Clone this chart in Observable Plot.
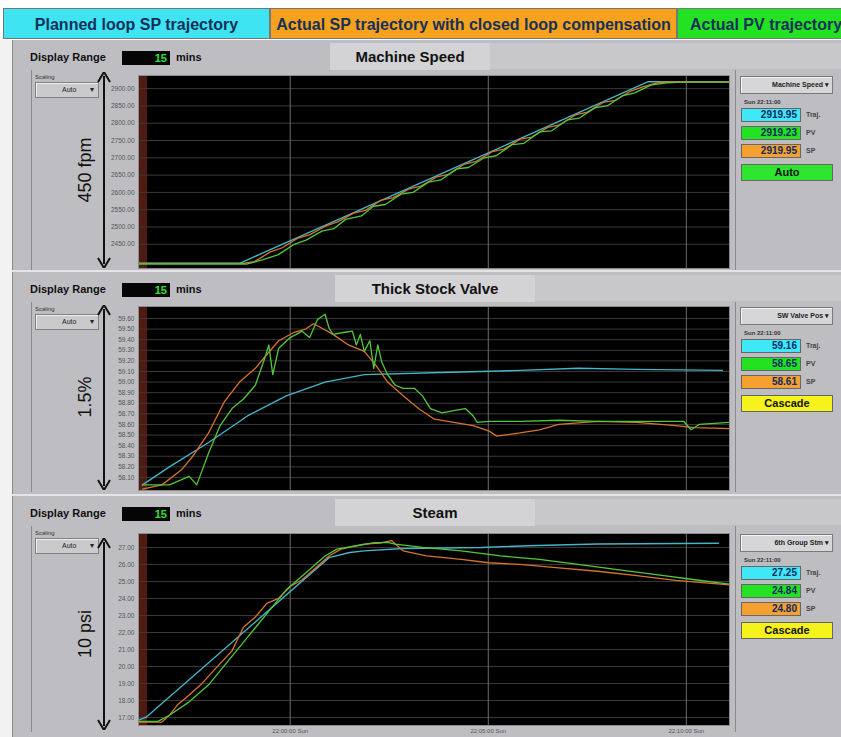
<!DOCTYPE html>
<html><head><meta charset="utf-8">
<script src="https://cdn.jsdelivr.net/npm/d3@7"></script>
<script src="https://cdn.jsdelivr.net/npm/@observablehq/plot@0.6"></script>
<style>
body{margin:0;background:#fff;font-family:"Liberation Sans",Arial,sans-serif;}
#root{position:relative;width:841px;height:737px;overflow:hidden;background:#fff;}
.a{position:absolute;box-sizing:border-box;}
.hdr{top:8px;height:31px;line-height:31px;font-family:"Liberation Sans Narrow","Liberation Sans",sans-serif;font-weight:bold;font-size:16px;color:#15305a;text-align:center;white-space:nowrap;overflow:hidden;border:1px solid #777;}
.dr{font-weight:bold;font-size:11px;color:#111;white-space:nowrap;}
.drbox{background:#050505;color:#2ee02e;font-weight:bold;font-size:11px;text-align:right;padding-right:3px;line-height:14px;}
.tab{background:#d3d3d5;font-weight:bold;font-size:15px;color:#111;text-align:center;white-space:nowrap;}
.tiny{font-size:6px;color:#333;white-space:nowrap;}
.scbox{border:1px solid #808080;background:#cacacd;font-size:7px;color:#222;line-height:14px;white-space:nowrap;box-shadow:inset 1px 1px 0 #eee;}
.rot{font-size:18px;color:#111;white-space:nowrap;transform:rotate(-90deg);transform-origin:center center;text-align:center;width:120px;height:20px;line-height:20px;}
.dd{border:1px solid #7a7a7a;background:#d6d6d8;font-size:7px;font-weight:bold;color:#222;line-height:15px;text-align:right;padding-right:3px;white-space:nowrap;box-shadow:inset 1px 1px 0 #f2f2f2;}
.val{font-weight:bold;font-size:10px;color:#0b2a66;text-align:right;padding-right:3px;border:1px solid #666;line-height:12px;}
.vlab{font-size:7px;font-weight:bold;color:#444;white-space:nowrap;}
.mode{font-weight:bold;font-size:11px;color:#111;text-align:center;border:1px solid #666;}
</style></head>
<body><div id="root"></div>
<script>
// ---------- data ----------
const headerLabels = ["Planned loop SP trajectory", "Actual SP trajectory with closed loop compensation", "Actual PV trajectory"];
const panelTitles = ["Machine Speed", "Thick Stock Valve", "Steam"];
const rangeLabels = ["450 fpm", "1.5%", "10 psi"];
const tagNames = ["Machine Speed", "SW Valve Pos", "6th Group Stm"];
const modeLabels = ["Auto", "Cascade", "Cascade"];
const trajValues = ["2919.95", "59.16", "27.25"];
const pvValues = ["2919.23", "58.65", "24.84"];
const spValues = ["2919.95", "58.61", "24.80"];
const displayRange = "15";
const stampLabel = "Sun 22:11:00";

// time in minutes relative to 22:00:00
const timeDomain = [-3.83, 11.09];
const timeTicks = [0, 5, 10];
const timeLabels = ["22:00:00 Sun", "22:05:00 Sun", "22:10:00 Sun"];
const redBand = [{x1: -3.83, x2: -3.6}];

const speedTicks = [2900, 2850, 2800, 2750, 2700, 2650, 2600, 2550, 2500, 2450];
const speedDomain = [2380, 2938];
const speedTraj = [[-3.83,2395],[-1.28,2395],[9.04,2920],[11.09,2920]];
const speedSP = [[-3.83,2395],[-1.2,2395],[-0.9,2400],[-0.5,2428],[-0.2,2440],[0.2,2468],[0.5,2478],[0.9,2503],[1.2,2515],[1.6,2540],[1.9,2548],[2.3,2578],[2.6,2585],[3.0,2610],[3.3,2618],[3.7,2645],[4.0,2652],[4.4,2682],[4.7,2690],[5.1,2718],[5.4,2725],[5.8,2754],[6.1,2760],[6.5,2788],[6.8,2795],[7.2,2824],[7.5,2832],[7.9,2860],[8.2,2866],[8.6,2893],[8.9,2905],[9.3,2918],[9.6,2920],[11.09,2920]];
const speedPV = [[-3.83,2393],[-1.1,2393],[-0.7,2405],[-0.3,2420],[0.1,2450],[0.4,2462],[0.8,2488],[1.1,2495],[1.4,2522],[1.8,2532],[2.1,2560],[2.4,2565],[2.8,2595],[3.1,2600],[3.5,2630],[3.8,2636],[4.2,2668],[4.5,2672],[4.9,2700],[5.2,2706],[5.6,2738],[5.9,2742],[6.3,2775],[6.6,2778],[7.0,2810],[7.3,2815],[7.7,2845],[8.0,2850],[8.4,2880],[8.7,2888],[9.1,2910],[9.5,2917],[9.9,2919],[11.09,2919]];

const valveTicks = [59.6, 59.5, 59.4, 59.3, 59.2, 59.1, 59.0, 58.9, 58.8, 58.7, 58.6, 58.5, 58.4, 58.3, 58.2, 58.1];
const valveDomain = [57.977, 59.713];
const valveTraj = [[-3.73,58.03],[-3.05,58.20],[-2.06,58.43],[-1.08,58.68],[-0.10,58.87],[0.88,59.00],[1.87,59.07],[3.83,59.09],[5.80,59.11],[7.27,59.13],[8.75,59.12],[10.91,59.11]];
const valveSP = [[-3.73,57.99],[-3.24,58.03],[-2.75,58.17],[-2.46,58.30],[-2.06,58.52],[-1.67,58.81],[-1.28,59.00],[-0.88,59.13],[-0.59,59.26],[-0.29,59.39],[0.10,59.47],[0.39,59.50],[0.59,59.55],[0.79,59.51],[1.08,59.45],[1.47,59.35],[1.87,59.29],[2.16,59.16],[2.46,59.00],[2.85,58.87],[3.24,58.75],[3.64,58.65],[4.13,58.62],[4.62,58.59],[5.01,58.54],[5.21,58.49],[5.80,58.52],[6.29,58.55],[6.78,58.60],[7.76,58.63],[8.75,58.62],[9.73,58.59],[10.22,58.57],[11.09,58.56]];
const valvePV = [[-3.73,58.03],[-3.05,58.03],[-2.55,58.11],[-2.36,58.03],[-2.06,58.33],[-1.77,58.59],[-1.47,58.75],[-1.18,58.84],[-0.88,58.97],[-0.64,59.23],[-0.54,59.35],[-0.44,59.07],[-0.29,59.32],[0.00,59.42],[0.30,59.48],[0.49,59.42],[0.69,59.59],[0.88,59.64],[0.98,59.51],[1.08,59.45],[1.38,59.47],[1.57,59.48],[1.67,59.35],[1.77,59.45],[1.87,59.29],[2.01,59.39],[2.11,59.13],[2.21,59.35],[2.31,59.19],[2.46,59.07],[2.65,58.97],[2.85,58.94],[3.14,58.94],[3.34,58.87],[3.54,58.75],[3.83,58.71],[4.13,58.73],[4.42,58.75],[4.62,58.68],[4.72,58.62],[5.01,58.63],[5.80,58.63],[6.78,58.64],[7.76,58.63],[8.75,58.63],[9.93,58.63],[10.12,58.55],[10.32,58.60],[11.09,58.62]];

const steamTicks = [27, 26, 25, 24, 23, 22, 21, 20, 19, 18, 17];
const steamDomain = [16.53, 27.82];
const steamTraj = [[-3.83,16.85],[-3.63,17.03],[0.98,26.40],[1.5,26.70],[1.87,26.80],[2.85,26.94],[4.82,27.00],[6.0,27.10],[7.76,27.20],[10.81,27.25]];
const steamSP = [[-3.83,16.73],[-3.24,16.73],[-3.05,17.13],[-2.85,17.73],[-2.55,18.32],[-2.26,18.92],[-1.87,19.92],[-1.47,20.92],[-1.18,22.31],[-0.88,22.91],[-0.59,23.71],[-0.29,24.01],[0.00,24.70],[0.30,25.10],[0.69,25.90],[0.98,26.50],[1.28,26.90],[1.87,27.20],[2.26,27.26],[2.56,27.40],[2.85,26.80],[3.44,26.50],[4.32,26.30],[5.01,26.10],[5.80,26.00],[6.78,25.80],[7.76,25.60],[8.75,25.34],[9.73,25.06],[11.09,24.80]];
const steamPV = [[-3.83,16.77],[-3.34,16.77],[-3.05,17.13],[-2.55,17.92],[-2.06,18.92],[-1.57,20.32],[-1.08,21.71],[-0.59,23.11],[-0.10,24.51],[0.39,25.50],[0.88,26.50],[1.18,26.90],[1.67,27.10],[2.06,27.26],[2.46,27.30],[2.65,27.20],[3.34,27.00],[4.32,26.80],[5.31,26.50],[6.29,26.30],[7.27,26.00],[8.26,25.70],[9.24,25.40],[10.22,25.10],[11.09,24.84]];

// ---------- styles ----------
const C = {traj: "#45b4c8", sp: "#d8742e", pv: "#52c83a"};
const root = document.getElementById("root");
function el(cls, css, html) {
  const d = document.createElement("div");
  d.className = "a " + (cls || "");
  Object.assign(d.style, css);
  if (html !== undefined) d.innerHTML = html;
  root.appendChild(d);
  return d;
}
function px(v){return v + "px";}

// header
const hdrBoxes = [[3, 267, "#3ee4f2"], [270, 407, "#f6a21c"], [677, 170, "#22e222"]];
hdrBoxes.forEach(([x, w, bg], i) => el("hdr", {left: px(x), width: px(w), background: bg, textAlign: i === 2 ? "left" : "center", paddingLeft: i === 2 ? "12px" : "0"}, headerLabels[i]));

// panel backgrounds
el("", {left: "12px", top: "40px", width: "829px", height: "697px", background: "#bebec2", borderLeft: "1px solid #8a8a8e"});
el("", {left: "0px", top: "40px", width: "12px", height: "697px", background: "#f2f2f2"});

const panels = [
  {top: 40, tabL: 330, tabW: 160, arrowTop: 72, arrowBot: 268, rotY: 170, svgTop: 70, h: 200, mt: 5, mb: 2},
  {top: 272, tabL: 335, tabW: 200, arrowTop: 305, arrowBot: 490, rotY: 397, svgTop: 301, h: 191, mt: 5, mb: 2},
  {top: 496, tabL: 335, tabW: 200, arrowTop: 538, arrowBot: 730, rotY: 634, svgTop: 528, h: 209, mt: 5, mb: 12}
];
const panelData = [
  {traj: speedTraj, sp: speedSP, pv: speedPV, ticks: speedTicks, domain: speedDomain},
  {traj: valveTraj, sp: valveSP, pv: valvePV, ticks: valveTicks, domain: valveDomain},
  {traj: steamTraj, sp: steamSP, pv: steamPV, ticks: steamTicks, domain: steamDomain}
];
const modeColors = ["#2ee62e", "#f6f21c", "#f6f21c"];

function makePlot(d, p, showX) {
  return Plot.plot({
    width: 635, height: p.h,
    marginLeft: 38, marginRight: 6, marginTop: p.mt, marginBottom: p.mb,
    style: {background: "transparent", fontFamily: "Liberation Sans, sans-serif", overflow: "visible"},
    x: {domain: timeDomain, axis: null},
    y: {domain: d.domain, axis: null},
    marks: [
      Plot.frame({fill: "#000"}),
      Plot.rect(redBand, {x1: "x1", x2: "x2", fill: "#4e1b12"}),
      Plot.gridY(d.ticks, {stroke: "#3a3a3a", strokeOpacity: 1}),
      Plot.gridX(timeTicks, {stroke: "#6e6e6e", strokeOpacity: 1}),
      Plot.line(d.traj, {x: v => v[0], y: v => v[1], stroke: C.traj, strokeWidth: 1.4}),
      Plot.line(d.sp, {x: v => v[0], y: v => v[1], stroke: C.sp, strokeWidth: 1.3}),
      Plot.line(d.pv, {x: v => v[0], y: v => v[1], stroke: C.pv, strokeWidth: 1.3}),
      Plot.axisY(d.ticks, {tickSize: 0, tickPadding: 4, fontSize: 6.5, fill: "#555", tickFormat: t => t.toFixed(2)}),
      showX ? Plot.axisX(timeTicks, {tickSize: 0, tickPadding: 3, fontSize: 6, fill: "#555", tickFormat: t => timeLabels[timeTicks.indexOf(t)]}) : null,
      Plot.frame({stroke: "#8c8c8c"})
    ]
  });
}

panels.forEach((p, i) => {
  const t = p.top;
  if (i > 0) el("", {left: "12px", top: px(t - 2), width: "829px", height: "2px", background: "#e4e4e6"});
  el("", {left: px(p.tabL + p.tabW), top: px(t + 3), width: px(841 - p.tabL - p.tabW), height: "26px", background: "#c8c8ca"});
  el("tab", {left: px(p.tabL), top: px(t + 3), width: px(p.tabW), height: "27px", lineHeight: "27px"}, panelTitles[i]);
  el("dr", {left: "30px", top: px(t + 11)}, "Display Range");
  el("drbox", {left: "122px", top: px(t + 11), width: "48px", height: "14px"}, displayRange);
  el("dr", {left: "176px", top: px(t + 11)}, "mins");
  el("", {left: "31px", top: px(t + 30), width: "1px", height: px(p.arrowBot - t - 28), background: "#8a8a8e"});
  el("tiny", {left: "35px", top: px(t + 34)}, "Scaling");
  el("scbox", {left: "35px", top: px(t + 42), width: "64px", height: "16px"}, '<span style="margin-left:26px">Auto</span><span style="position:absolute;right:4px;font-size:8px">&#9662;</span>');
  const ah = p.arrowBot - p.arrowTop;
  el("", {left: "97px", top: px(p.arrowTop), width: "14px", height: px(ah)},
    `<svg width="14" height="${ah}"><line x1="7" y1="4" x2="7" y2="${ah - 4}" stroke="#111" stroke-width="2"/><path d="M1,10 L7,0 L13,10" fill="none" stroke="#111" stroke-width="2"/><path d="M1,${ah - 10} L7,${ah} L13,${ah - 10}" fill="none" stroke="#111" stroke-width="2"/></svg>`);
  el("rot", {left: px(85 - 60), top: px(p.rotY - 10)}, rangeLabels[i]);
  const holder = el("", {left: "100px", top: px(p.svgTop)});
  holder.appendChild(makePlot(panelData[i], p, i === 2));
  const rt = p.svgTop + 5;
  el("", {left: "735px", top: px(t + 30), width: "1px", height: px(p.arrowBot - t - 28), background: "#8a8a8e"});
  el("dd", {left: "740px", top: px(rt + 1), width: "93px", height: "18px"}, tagNames[i] + ' &#9662;');
  el("tiny", {left: "744px", top: px(rt + 24), fontWeight: "bold"}, stampLabel);
  el("val", {left: "741px", top: px(rt + 33), width: "60px", height: "14px", background: "#3ee8f6"}, trajValues[i]);
  el("vlab", {left: "806px", top: px(rt + 36)}, "Traj.");
  el("val", {left: "741px", top: px(rt + 51), width: "60px", height: "14px", background: "#22e222"}, pvValues[i]);
  el("vlab", {left: "806px", top: px(rt + 54)}, "PV");
  el("val", {left: "741px", top: px(rt + 69), width: "60px", height: "14px", background: "#f6a030"}, spValues[i]);
  el("vlab", {left: "806px", top: px(rt + 72)}, "SP");
  el("mode", {left: "741px", top: px(rt + 89), width: "92px", height: "17px", lineHeight: "15px", background: modeColors[i]}, modeLabels[i]);
});
</script>
</body></html>
